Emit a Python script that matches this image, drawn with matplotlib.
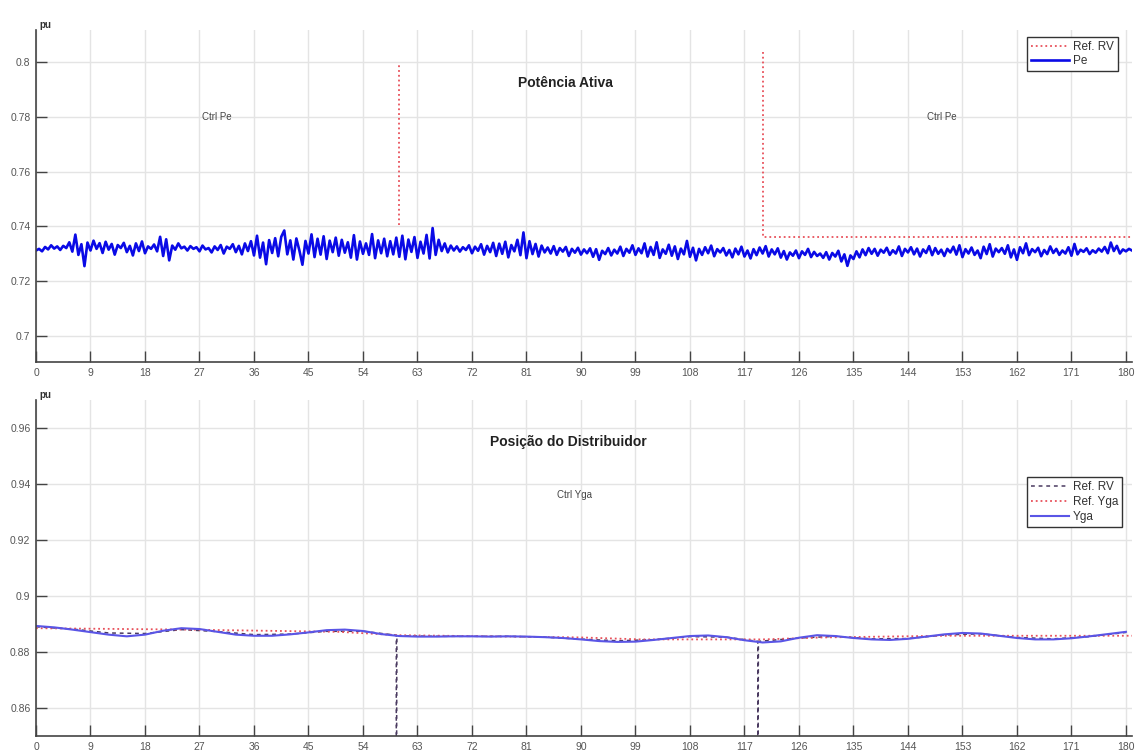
import numpy as np
import matplotlib
matplotlib.use("Agg")
import matplotlib.pyplot as plt
from matplotlib.ticker import FixedLocator, FuncFormatter

plt.rcParams['font.family'] = ['Liberation Sans', 'DejaVu Sans']

# ---------------- data ----------------
x_ticks = [0, 9, 18, 27, 36, 45, 54, 63, 72, 81, 90, 99, 108, 117, 126, 135, 144, 153, 162, 171, 180]
top_yticks = [0.70, 0.72, 0.74, 0.76, 0.78, 0.80]
bot_yticks = [0.86, 0.88, 0.90, 0.92, 0.94, 0.96]

pe_values = [
    0.7312, 0.7318, 0.7309, 0.7325, 0.7316, 0.7331, 0.7319, 0.7327, 0.7314, 0.7329,
    0.7321, 0.7342, 0.7308, 0.7370, 0.7296, 0.7335, 0.7255, 0.7341, 0.7312, 0.7348,
    0.7318, 0.7339, 0.7303, 0.7344, 0.7315, 0.7336, 0.7297, 0.7332, 0.7321, 0.7340,
    0.7306, 0.7329, 0.7294, 0.7338, 0.7310, 0.7345, 0.7302, 0.7327, 0.7318, 0.7334,
    0.7309, 0.7362, 0.7292, 0.7353, 0.7276, 0.7330, 0.7315, 0.7338, 0.7320, 0.7326,
    0.7312, 0.7328, 0.7318, 0.7324, 0.7309, 0.7330, 0.7316, 0.7321, 0.7305, 0.7327,
    0.7314, 0.7332, 0.7301, 0.7326, 0.7318, 0.7335, 0.7306, 0.7329, 0.7298, 0.7338,
    0.7310, 0.7346, 0.7294, 0.7366, 0.7286, 0.7341, 0.7262, 0.7350, 0.7303, 0.7357,
    0.7291, 0.7362, 0.7385, 0.7298, 0.7349, 0.7279, 0.7356, 0.7312, 0.7260, 0.7347,
    0.7301, 0.7371, 0.7288, 0.7355, 0.7297, 0.7364, 0.7281, 0.7348, 0.7306, 0.7359,
    0.7293, 0.7351, 0.7304, 0.7342, 0.7286, 0.7368, 0.7279, 0.7345, 0.7300, 0.7338,
    0.7296, 0.7372, 0.7284, 0.7349, 0.7302, 0.7355, 0.7291, 0.7346, 0.7298, 0.7359,
    0.7289, 0.7366, 0.7280, 0.7352, 0.7307, 0.7361, 0.7285, 0.7344, 0.7301, 0.7369,
    0.7283, 0.7394, 0.7296, 0.7351, 0.7310, 0.7338, 0.7305, 0.7330, 0.7312, 0.7327,
    0.7308, 0.7324, 0.7314, 0.7331, 0.7302, 0.7326, 0.7311, 0.7335, 0.7297, 0.7329,
    0.7306, 0.7340, 0.7292, 0.7337, 0.7300, 0.7344, 0.7287, 0.7332, 0.7309, 0.7351,
    0.7295, 0.7378, 0.7284, 0.7346, 0.7299, 0.7336, 0.7290, 0.7330, 0.7305, 0.7323,
    0.7301, 0.7328, 0.7296, 0.7321, 0.7308, 0.7325, 0.7292, 0.7318, 0.7304, 0.7322,
    0.7297, 0.7316, 0.7302, 0.7320, 0.7289, 0.7317, 0.7278, 0.7311, 0.7299, 0.7321,
    0.7294, 0.7315, 0.7301, 0.7326, 0.7292, 0.7318, 0.7304, 0.7331, 0.7296, 0.7320,
    0.7302, 0.7338, 0.7290, 0.7325, 0.7296, 0.7342, 0.7285, 0.7316, 0.7300, 0.7333,
    0.7293, 0.7327, 0.7281, 0.7319, 0.7298, 0.7347, 0.7289, 0.7322, 0.7276, 0.7318,
    0.7296, 0.7324, 0.7302, 0.7330, 0.7291, 0.7317, 0.7305, 0.7321, 0.7294, 0.7314,
    0.7287, 0.7319, 0.7298, 0.7326, 0.7290, 0.7312, 0.7283, 0.7317, 0.7295, 0.7323,
    0.7301, 0.7328, 0.7290, 0.7316, 0.7298, 0.7320, 0.7286, 0.7310, 0.7279, 0.7305,
    0.7293, 0.7312, 0.7284, 0.7309, 0.7296, 0.7318, 0.7288, 0.7307, 0.7292, 0.7301,
    0.7285, 0.7306, 0.7279, 0.7303, 0.7290, 0.7311, 0.7272, 0.7298, 0.7256, 0.7294,
    0.7281, 0.7309, 0.7287, 0.7316, 0.7295, 0.7321, 0.7300, 0.7318, 0.7293, 0.7315,
    0.7304, 0.7322, 0.7296, 0.7313, 0.7301, 0.7327, 0.7292, 0.7318, 0.7305, 0.7324,
    0.7298, 0.7319, 0.7290, 0.7316, 0.7303, 0.7328, 0.7295, 0.7321, 0.7300, 0.7315,
    0.7292, 0.7318, 0.7305, 0.7326, 0.7297, 0.7331, 0.7288, 0.7317, 0.7301, 0.7323,
    0.7296, 0.7312, 0.7284, 0.7326, 0.7299, 0.7335, 0.7290, 0.7319, 0.7306, 0.7321,
    0.7300, 0.7331, 0.7287, 0.7316, 0.7278, 0.7324, 0.7302, 0.7338, 0.7295, 0.7317,
    0.7306, 0.7322, 0.7291, 0.7314, 0.7299, 0.7327, 0.7303, 0.7318, 0.7296, 0.7312,
    0.7301, 0.7324, 0.7293, 0.7336, 0.7298, 0.7315, 0.7307, 0.7320, 0.7299, 0.7313,
    0.7304, 0.7319, 0.7308, 0.7325, 0.7302, 0.7341, 0.7310, 0.7329, 0.7301, 0.7316,
    0.7309, 0.7318, 0.7312,
]
pe_time = np.linspace(0, 181, len(pe_values))

refrv_top_time = [60.0, 60.0, np.nan, 120.0, 120.0, 181.0]
refrv_top_vals = [0.7405, 0.7998, np.nan, 0.8036, 0.7362, 0.7362]

yga_time = [0, 3, 6, 9, 12, 15, 18, 21, 24, 27, 30, 33, 36, 39, 42, 45, 48, 51, 54, 57,
            60, 63, 66, 69, 72, 75, 78, 81, 84, 87, 90, 93, 96, 99, 102, 105, 108, 111,
            114, 117, 120, 123, 126, 129, 132, 135, 138, 141, 144, 147, 150, 153, 156,
            159, 162, 165, 168, 171, 174, 177, 180]
yga_vals = [0.8893, 0.8888, 0.8880, 0.8871, 0.8862, 0.8856, 0.8862, 0.8876, 0.8885, 0.8882,
            0.8872, 0.8862, 0.8858, 0.8858, 0.8863, 0.8870, 0.8878, 0.8880, 0.8875, 0.8864,
            0.8857, 0.8855, 0.8855, 0.8856, 0.8856, 0.8855, 0.8856, 0.8855, 0.8853, 0.8850,
            0.8845, 0.8839, 0.8836, 0.8837, 0.8843, 0.8850, 0.8857, 0.8859, 0.8853, 0.8842,
            0.8834, 0.8838, 0.8851, 0.8860, 0.8857, 0.8850, 0.8845, 0.8843, 0.8847, 0.8855,
            0.8863, 0.8868, 0.8866, 0.8858, 0.8850, 0.8845, 0.8845, 0.8849, 0.8856, 0.8864,
            0.8872]

refyga_time = [0, 25, 50, 60, 90, 100, 120, 130, 150, 181]
refyga_vals = [0.8885, 0.8880, 0.8872, 0.8860, 0.8852, 0.8845, 0.8845, 0.8852, 0.8858, 0.8858]

refrv_bot_time = [0, 6, 12, 18, 24, 30, 36, 42, 48, 54, 59.5, 59.5, 59.6, 66, 72, 78, 84, 90,
                  96, 102, 108, 114, 119.2, 119.2, 119.3, 126, 132, 138, 144, 150, 156, 162,
                  168, 174, 180]
refrv_bot_vals = [0.8890, 0.8882, 0.8868, 0.8866, 0.8880, 0.8873, 0.8862, 0.8864, 0.8874,
                  0.8874, 0.8860, 0.8000, 0.8858, 0.8856, 0.8856, 0.8856, 0.8853, 0.8846,
                  0.8840, 0.8844, 0.8855, 0.8853, 0.8838, 0.8000, 0.8838, 0.8850, 0.8856,
                  0.8847, 0.8848, 0.8861, 0.8865, 0.8852, 0.8847, 0.8855, 0.8870]

# ---------------- figure ----------------
W, H = 1135, 756
fig = plt.figure(figsize=(W / 100, H / 100), dpi=100)

def px_axes(x0, y0, x1, y1):
    return fig.add_axes([x0 / W, 1 - y1 / H, (x1 - x0) / W, (y1 - y0) / H])

ax1 = px_axes(36, 30, 1132, 362)
ax2 = px_axes(36, 400, 1132, 736)

tick_col = '#555555'

def style(ax, yticks, ylim):
    ax.set_xlim(0, 181)
    ax.set_ylim(*ylim)
    ax.xaxis.set_major_locator(FixedLocator(x_ticks))
    ax.yaxis.set_major_locator(FixedLocator(yticks))
    ax.yaxis.set_major_formatter(FuncFormatter(lambda v, p: f"{v:g}"))
    ax.grid(True, color='#e4e4e4', linewidth=1.0)
    ax.set_axisbelow(True)
    for s in ['top', 'right']:
        ax.spines[s].set_visible(False)
    for s in ['left', 'bottom']:
        ax.spines[s].set_color('#444444')
        ax.spines[s].set_linewidth(1.2)
    ax.tick_params(direction='in', length=8, width=1.0, colors='#444444',
                   labelsize=7.5, labelcolor=tick_col, pad=4)
    ax.text(0.003, 1.0, 'pu', transform=ax.transAxes, fontsize=7, color='#333333',
            ha='left', va='bottom', fontweight='bold')

# ---- top: Potência Ativa ----
style(ax1, top_yticks, (0.6905, 0.8117))
ax1.plot(refrv_top_time, refrv_top_vals, linestyle=':', color='#e8505a', linewidth=1.3,
         label='Ref. RV')
ax1.plot(pe_time, pe_values, color='#0a0ae6', linewidth=1.9, label='Pe')
ax1.text(87.5, 0.7925, 'Potência Ativa', fontsize=10, fontweight='bold', color='#222222',
         ha='center', va='center')
ax1.text(29.8, 0.7800, 'Ctrl Pe', fontsize=7, color='#444444', ha='center', va='center')
ax1.text(149.6, 0.7800, 'Ctrl Pe', fontsize=7, color='#444444', ha='center', va='center')
leg1 = ax1.legend(loc='upper right', bbox_to_anchor=(0.987, 0.98), fontsize=8.5,
                  fancybox=False, framealpha=1, edgecolor='#333333', handlelength=3.2,
                  handletextpad=0.3, borderpad=0.35, labelspacing=0.2, borderaxespad=0)
for t in leg1.get_texts():
    t.set_color('#333333')

# ---- bottom: Posição do Distribuidor ----
style(ax2, bot_yticks, (0.850, 0.970))
ax2.plot(refrv_bot_time, refrv_bot_vals, linestyle='--', dashes=(2.5, 2.5), color='#4a3a60',
         linewidth=1.1, label='Ref. RV')
ax2.plot(refyga_time, refyga_vals, linestyle=':', color='#e8505a', linewidth=1.3,
         label='Ref. Yga')
ax2.plot(yga_time, yga_vals, color='#5a55e6', linewidth=1.5, label='Yga')
ax2.text(88.0, 0.9550, 'Posição do Distribuidor', fontsize=10, fontweight='bold',
         color='#222222', ha='center', va='center')
ax2.text(89.0, 0.9360, 'Ctrl Yga', fontsize=7, color='#444444', ha='center', va='center')
leg2 = ax2.legend(loc='upper right', bbox_to_anchor=(0.991, 0.771), fontsize=8.5,
                  fancybox=False, framealpha=1, edgecolor='#333333', handlelength=3.2,
                  handletextpad=0.3, borderpad=0.35, labelspacing=0.25, borderaxespad=0)
for t in leg2.get_texts():
    t.set_color('#333333')

fig.savefig('out.png', dpi=100)
